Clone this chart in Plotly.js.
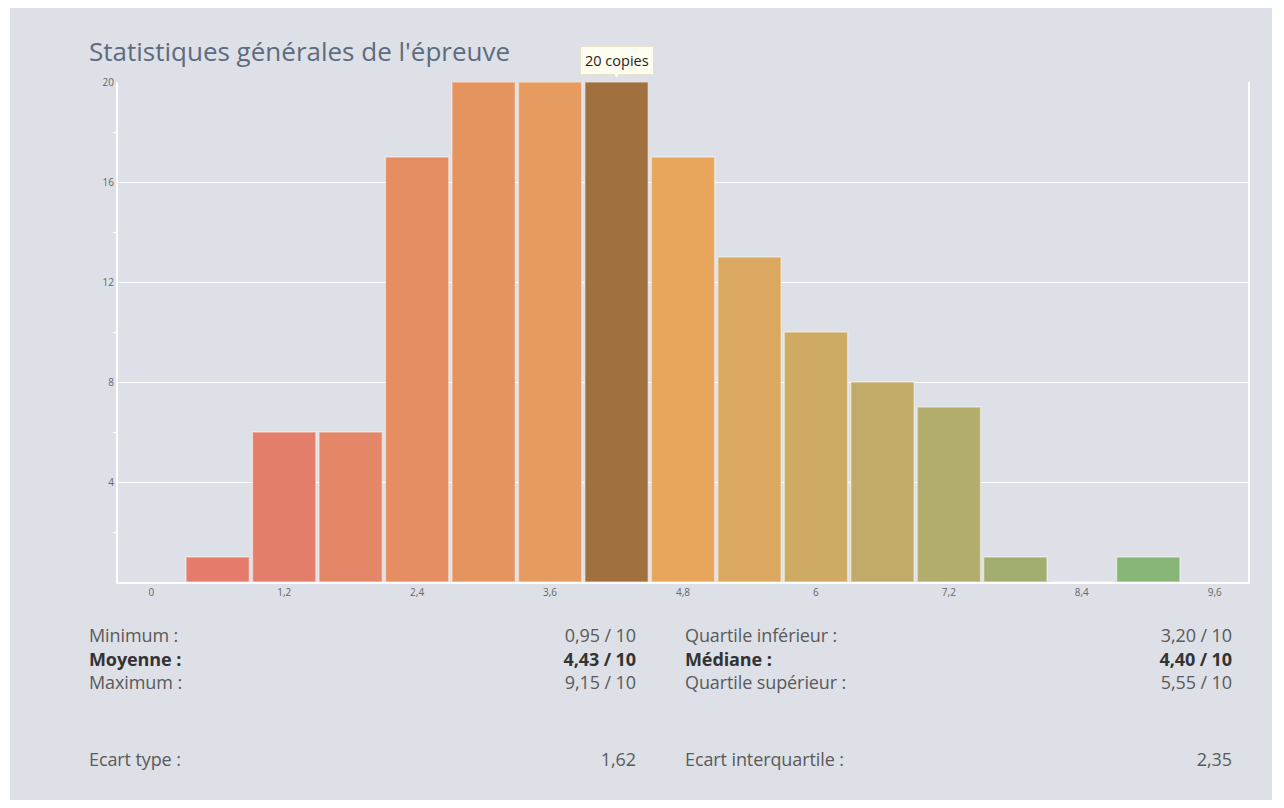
<!DOCTYPE html>
<html>
<head>
<meta charset="utf-8">
<script src="https://cdn.plot.ly/plotly-3.0.1.min.js"></script>
<style>
  html, body { margin: 0; padding: 0; background: #ffffff; }
  #panel { position: absolute; left: 10px; top: 8px; width: 1262px; height: 792px; background: #dde0e6; }
  #chart { position: absolute; left: 0; top: 0; width: 1284px; height: 620px; }
  .stat { position: absolute; font-family: "Open Sans", sans-serif; font-size: 18px; color: #5a5a5a; white-space: nowrap; letter-spacing: -0.1px; }
  .b { font-weight: bold; color: #333; }
  .r { text-align: right; }
</style>
</head>
<body>
<div id="panel"></div>
<div id="chart"></div>
<div id="stats"></div>
<script>
// Data
const binCenters = [0.6, 1.2, 1.8, 2.4, 3.0, 3.6, 4.2, 4.8, 5.4, 6.0, 6.6, 7.2, 7.8, 8.4, 9.0];
const counts     = [1, 6, 6, 17, 20, 20, 20, 17, 13, 10, 8, 7, 1, 0, 1];
const xTickVals  = [0, 1.2, 2.4, 3.6, 4.8, 6, 7.2, 8.4, 9.6];
const yTickVals  = [4, 8, 12, 16, 20];
const barColors  = ['#e47b6b','#e37e6a','#e38768','#e58e63','#e5935f','#e69c60','#a0703f','#e8a65c',
                    '#dba862','#cfaa64','#c0ab68','#b2ad6c','#a2ae70','#93b274','#88b677'];
const highlightIndex = 6;
const statLabelsLeft  = ['Minimum :', 'Moyenne :', 'Maximum :', 'Ecart type :'];
const statValuesLeft  = ['0,95 / 10', '4,43 / 10', '9,15 / 10', '1,62'];
const statLabelsRight = ['Quartile inférieur :', 'Médiane :', 'Quartile supérieur :', 'Ecart interquartile :'];
const statValuesRight = ['3,20 / 10', '4,40 / 10', '5,55 / 10', '2,35'];
const boldRow = 1;

const trace = {
  type: 'bar',
  x: binCenters,
  y: counts,
  width: 0.572,
  marker: { color: barColors, line: { color: 'rgba(255,255,255,0.45)', width: 1.5 } },
  hoverinfo: 'none'
};

const layout = {
  width: 1284, height: 620,
  margin: { l: 118, r: 36, t: 82, b: 38 },
  paper_bgcolor: 'rgba(0,0,0,0)',
  plot_bgcolor: 'rgba(0,0,0,0)',
  separators: ', ',
  showlegend: false,
  bargap: 0,
  title: {
    text: "Statistiques générales de l'épreuve",
    x: 0, xref: 'container', xanchor: 'left',
    y: 1, yref: 'container', yanchor: 'top',
    pad: { l: 89, t: 43 },
    font: { family: 'Open Sans, sans-serif', size: 26, color: '#5e6b80' }
  },
  xaxis: {
    range: [-0.3, 9.9],
    tickvals: xTickVals,
    ticktext: xTickVals.map(v => String(v).replace('.', ',')),
    showgrid: false, zeroline: false,
    showline: true, linecolor: '#ffffff', linewidth: 2,
    ticks: '', ticklen: 0,
    tickfont: { family: 'Open Sans, sans-serif', size: 10, color: '#666' },
    fixedrange: true
  },
  yaxis: {
    range: [0, 20],
    tickvals: yTickVals,
    showgrid: true, gridcolor: '#ffffff', gridwidth: 1,
    zeroline: false,
    showline: true, linecolor: '#ffffff', linewidth: 2, mirror: true,
    ticks: '',
    minor: { tickvals: [2, 6, 10, 14, 18], ticks: 'outside', ticklen: 3, tickcolor: '#ffffff', tickwidth: 1, showgrid: false },
    tickfont: { family: 'Open Sans, sans-serif', size: 10, color: '#666' },
    fixedrange: true
  },
  annotations: [
    {
      x: binCenters[highlightIndex], y: counts[highlightIndex], xref: 'x', yref: 'y',
      text: counts[highlightIndex] + ' copies',
      showarrow: true, ax: 0, ay: -22, axref: 'pixel', ayref: 'pixel',
      arrowcolor: '#fffdf0', arrowhead: 2, arrowsize: 1.6, arrowwidth: 1.5, standoff: 4,
      bgcolor: '#fffdf0', bordercolor: '#e6e2cc', borderwidth: 1, borderpad: 4,
      font: { family: 'Open Sans, sans-serif', size: 14.5, color: '#222' }
    }
  ]
};

Plotly.newPlot('chart', [trace], layout, { displayModeBar: false, staticPlot: true });

// Stats table
const rowsY = [623, 647, 670, 747];
const stats = document.getElementById('stats');
function addText(txt, left, top, right, bold) {
  const d = document.createElement('div');
  d.className = 'stat' + (bold ? ' b' : '') + (right ? ' r' : '');
  d.textContent = txt;
  d.style.top = top + 'px';
  if (right) { d.style.right = (1284 - left) + 'px'; } else { d.style.left = left + 'px'; }
  stats.appendChild(d);
}
for (let i = 0; i < 4; i++) {
  const bold = i === boldRow;
  addText(statLabelsLeft[i], 89, rowsY[i], false, bold);
  addText(statValuesLeft[i], 636, rowsY[i], true, bold);
  addText(statLabelsRight[i], 685, rowsY[i], false, bold);
  addText(statValuesRight[i], 1232, rowsY[i], true, bold);
}
</script>
</body>
</html>
